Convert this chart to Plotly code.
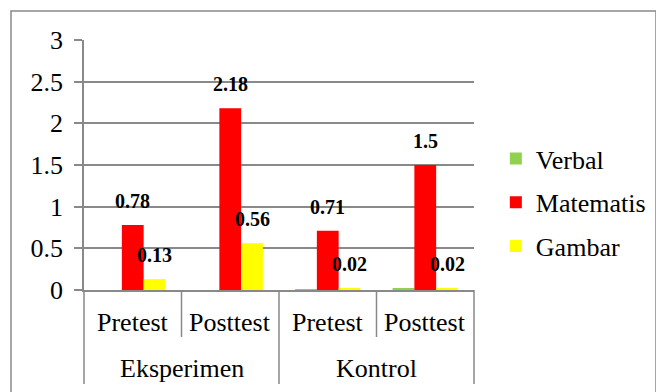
import plotly.graph_objects as go

groups = ["Eksperimen", "Eksperimen", "Kontrol", "Kontrol"]
tests = ["Pretest", "Posttest", "Pretest", "Posttest"]
group_labels = ["Eksperimen", "Kontrol"]
verbal = [0, 0, 0.01, 0.02]
matematis = [0.78, 2.18, 0.71, 1.5]
gambar = [0.13, 0.56, 0.02, 0.02]
y_ticks = [0, 0.5, 1, 1.5, 2, 2.5, 3]

FONT = "Liberation Serif"
GRID = "#898989"
BARGAP = 0.33

x = [groups, tests]
series = [("Verbal", verbal, "#92D050", False),
          ("Matematis", matematis, "#FF0000", True),
          ("Gambar", gambar, "#FFFF00", True)]

fig = go.Figure()
for k, (name, vals, color, _) in enumerate(series):
    fig.add_trace(go.Bar(x=x, y=vals, name=name, marker_color=color,
                         marker_line_width=0, legendgroup=name, cliponaxis=False))

# value labels above bars (positions derived from category index and bar layout)
n_cat = len(tests)
n_ser = len(series)
bw = (1 - BARGAP) / n_ser
for k, (name, vals, color, labelled) in enumerate(series):
    if not labelled:
        continue
    for i, v in enumerate(vals):
        xc = (i + 0.5 - (1 - BARGAP) / 2 + bw * (k + 0.5)) / n_cat
        fig.add_annotation(x=xc, xref="paper", y=v, yref="y", text=f"<b>{v:g}</b>",
                           showarrow=False, yanchor="middle", xanchor="center",
                           yshift=24, font=dict(family=FONT, size=20, color="black"))

# category tick labels
for i, t in enumerate(tests):
    fig.add_annotation(x=(i + 0.5) / n_cat, xref="paper", y=-0.128, yref="paper",
                       text=t, showarrow=False, yanchor="middle", xanchor="center",
                       font=dict(family=FONT, size=26, color="black"))
for j, g in enumerate(group_labels):
    fig.add_annotation(x=(j + 0.5) / len(group_labels), xref="paper", y=-0.312,
                       yref="paper", text=g, showarrow=False, yanchor="middle",
                       xanchor="center", font=dict(family=FONT, size=26, color="black"))

# dividers
for i in range(n_cat + 1):
    outer = (i % 2 == 0)
    fig.add_shape(type="line", xref="paper", yref="paper", x0=i / n_cat, x1=i / n_cat,
                  y0=0, y1=-0.376 if outer else -0.188,
                  line=dict(color=GRID, width=1.5))

fig.update_layout(
    width=656, height=384,
    margin=dict(l=76, r=190, t=32, b=102),
    paper_bgcolor="white", plot_bgcolor="white",
    font=dict(family=FONT, size=26, color="black"),
    bargap=BARGAP, bargroupgap=0, barmode="group",
    showlegend=True,
    legend=dict(x=1.056, xanchor="left", y=0.62, yanchor="top",
                font=dict(family=FONT, size=26), tracegroupgap=7,
                bgcolor="rgba(0,0,0,0)"),
    yaxis=dict(range=[0, 3], tickvals=y_ticks, ticktext=[f"{v:g}" for v in y_ticks],
               showgrid=True, gridcolor=GRID, gridwidth=1.5,
               showline=True, linecolor=GRID, linewidth=1.5,
               ticks="outside", ticklen=8, tickcolor=GRID, tickwidth=1.5,
               ticklabelstandoff=6,
               zeroline=False, tickfont=dict(family=FONT, size=26)),
    xaxis=dict(type="multicategory", showline=True, linecolor=GRID, linewidth=1.5,
               showdividers=False, showticklabels=False, ticks=""),
)

fig.add_shape(type="rect", xref="paper", yref="paper",
              x0=(11 - 84) / 390, x1=(656 - 84) / 390,
              y0=(290 - 400) / 250, y1=1 + 29 / 250,
              line=dict(color=GRID, width=1.5), fillcolor="rgba(0,0,0,0)", layer="below")

fig.write_html("out.html")
